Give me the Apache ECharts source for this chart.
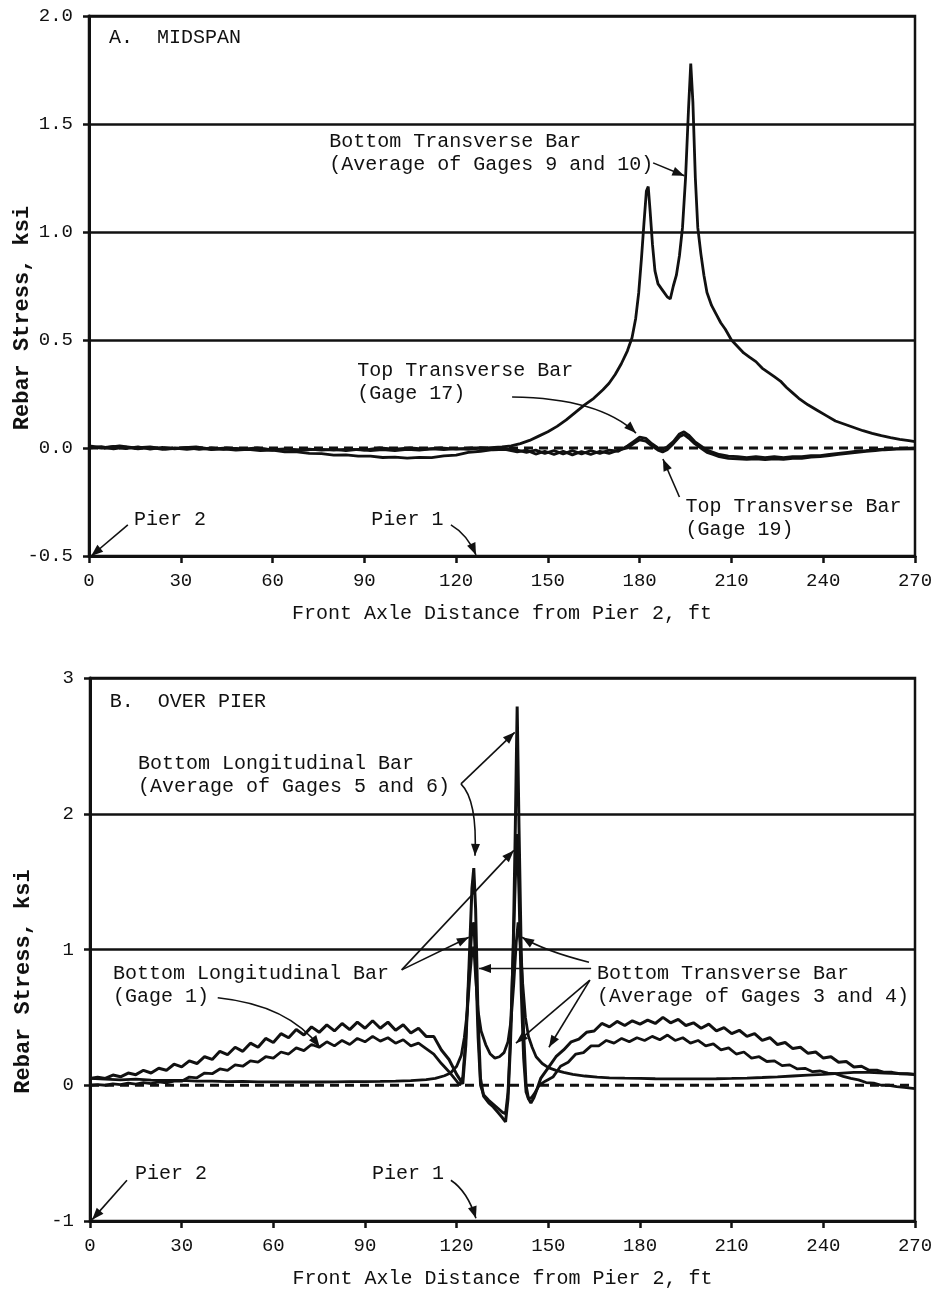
<!DOCTYPE html>
<html>
<head>
<meta charset="utf-8">
<script src="https://cdn.jsdelivr.net/npm/echarts@6/dist/echarts.min.js"></script>
<style>
  html, body { margin: 0; padding: 0; background: #fff; }
  #chart { width: 934px; height: 1290px; }
</style>
</head>
<body>
<div id="chart"></div>
<script>
// ---- data (x = front axle distance, ft; y = rebar stress, ksi) ----
const xMin = 0, xMax = 270, xStep = 30;
const midYMin = -0.5, midYMax = 2.0, midYStep = 0.5;
const pierYMin = -1, pierYMax = 3, pierYStep = 1;
const zeroLine = [[0, 0], [270, 0]];

// A. midspan
const midBottomTransverse = [
  [0,0.01],[5,0.0],[10,0.01],[15,0.0],[20,0.005],[25,-0.005],[30,0.0],[35,0.005],[40,-0.005],[45,0.0],
  [50,-0.005],[55,0.0],[60,-0.01],[65,-0.005],[70,-0.01],[75,-0.005],[80,-0.01],[85,-0.005],[90,-0.01],
  [95,0.0],[100,-0.005],[105,0.0],[110,-0.005],[115,0.0],[120,-0.005],[125,0.0],[130,0.0],[135,0.005],
  [138,0.01],[141,0.02],[144,0.035],[147,0.055],[150,0.075],[153,0.1],[156,0.13],[159,0.165],[162,0.2],
  [165,0.23],[168,0.27],[170,0.3],[172,0.34],[174,0.39],[176,0.45],[177.5,0.51],[178.7,0.6],[179.7,0.72],
  [180.6,0.88],[181.4,1.04],[182.2,1.19],[182.8,1.21],[183.4,1.1],[184.2,0.94],[185,0.82],[186,0.76],
  [187.5,0.73],[189,0.7],[190,0.69],[191,0.75],[192,0.8],[193,0.89],[194,1.02],[195,1.25],[196,1.58],
  [196.7,1.78],[197.4,1.6],[198.2,1.25],[199,1.02],[200,0.9],[201,0.8],[202,0.72],[203.5,0.66],[205,0.62],
  [206.5,0.58],[208,0.55],[210,0.5],[212,0.47],[214,0.44],[216,0.42],[218,0.4],[220,0.37],[222,0.35],
  [224,0.33],[226,0.31],[228,0.28],[230,0.255],[232,0.23],[235,0.2],[238,0.175],[241,0.15],[244,0.125],
  [247,0.11],[250,0.095],[253,0.08],[256,0.068],[259,0.057],[262,0.048],[265,0.04],[268,0.034],[270,0.03]
];
const midTopTransverse17 = [
  [0,0.005],[4,0],[8,0.008],[12,-0.003],[16,0.005],[20,-0.005],[24,0.003],[28,-0.004],[32,0.002],[36,-0.006],
  [40,0],[44,-0.006],[48,-0.002],[52,-0.008],[56,-0.003],[60,-0.008],[64,-0.004],[68,-0.01],[72,-0.005],
  [76,-0.01],[80,-0.006],[84,-0.012],[88,-0.006],[92,-0.012],[96,-0.007],[100,-0.012],[104,-0.006],
  [108,-0.01],[112,-0.004],[116,-0.008],[120,-0.003],[124,-0.006],[128,0],[132,-0.004],[136,-0.002],
  [140,-0.01],[143,-0.02],[146,-0.01],[149,-0.025],[152,-0.012],[155,-0.028],[158,-0.012],[161,-0.028],
  [164,-0.012],[167,-0.025],[170,-0.01],[173,-0.015],[176,0.01],[178,0.03],[180,0.05],[182,0.045],
  [184,0.02],[186,0.0],[187.5,-0.005],[189,0.005],[191,0.03],[193,0.065],[194.5,0.075],[196,0.06],
  [198,0.03],[200,0.01],[202,-0.01],[204,-0.02],[206,-0.03],[209,-0.038],[212,-0.04],[215,-0.045],
  [218,-0.04],[221,-0.045],[224,-0.04],[227,-0.045],[230,-0.04],[233,-0.04],[236,-0.035],[239,-0.035],
  [242,-0.03],[245,-0.025],[248,-0.02],[251,-0.015],[254,-0.012],[257,-0.008],[260,-0.005],[264,-0.003],[270,0]
];
const midTopTransverse19 = [
  [0,0],[4,0.006],[8,-0.004],[12,0.004],[16,-0.004],[20,0.003],[24,-0.006],[28,0.0],[32,-0.006],[36,0],
  [40,-0.008],[44,-0.004],[48,-0.01],[52,-0.006],[56,-0.012],[60,-0.01],[64,-0.018],[68,-0.018],[72,-0.025],
  [76,-0.026],[80,-0.033],[84,-0.032],[88,-0.038],[92,-0.038],[96,-0.044],[100,-0.042],[104,-0.047],
  [108,-0.043],[112,-0.045],[116,-0.036],[120,-0.033],[124,-0.02],[128,-0.015],[132,-0.008],[136,-0.006],
  [140,-0.018],[143,-0.01],[146,-0.028],[149,-0.015],[152,-0.03],[155,-0.015],[158,-0.032],[161,-0.016],
  [164,-0.03],[167,-0.015],[170,-0.025],[173,-0.01],[176,0.0],[178,0.02],[180,0.038],[182,0.032],
  [184,0.01],[186,-0.01],[187.5,-0.018],[189,-0.008],[191,0.02],[193,0.052],[194.5,0.062],[196,0.046],
  [198,0.02],[200,0.0],[202,-0.02],[204,-0.03],[206,-0.04],[209,-0.048],[212,-0.05],[215,-0.052],
  [218,-0.05],[221,-0.054],[224,-0.05],[227,-0.053],[230,-0.048],[233,-0.048],[236,-0.042],[239,-0.04],
  [242,-0.035],[245,-0.03],[248,-0.025],[251,-0.02],[254,-0.015],[257,-0.012],[260,-0.008],[264,-0.005],[270,-0.004]
];

// B. over pier
const pierBottomLong56 = [
  [0,0.05],[2.5,0.06],[5,0.05],[7.5,0.075],[10,0.062],[12.5,0.09],[15,0.078],[17.5,0.11],[20,0.09],
  [22.5,0.125],[25,0.11],[27.5,0.155],[30,0.135],[32.5,0.18],[35,0.16],[37.5,0.21],[40,0.19],[42.5,0.25],
  [45,0.225],[47.5,0.28],[50,0.25],[52.5,0.31],[55,0.28],[57.5,0.345],[60,0.315],[62.5,0.38],[65,0.35],
  [67.5,0.41],[70,0.37],[72.5,0.43],[75,0.39],[77.5,0.445],[80,0.4],[82.5,0.455],[85,0.41],[87.5,0.465],
  [90,0.42],[92.5,0.475],[95,0.42],[97.5,0.465],[100,0.405],[102.5,0.445],[105,0.385],[107.5,0.42],
  [110,0.36],[112.5,0.36],[115,0.26],[117.5,0.19],[120,0.08],[122,0.01],[123,0.3],[124,0.85],[125,1.45],
  [125.6,1.6],[126.2,1.3],[127,0.5],[127.8,0.05],[128.8,-0.08],[130.5,-0.13],[132,-0.16],[133.5,-0.2],
  [135,-0.24],[136,-0.27],[136.8,-0.1],[137.6,0.3],[138.5,1.0],[139.2,1.9],[139.8,2.79],[140.4,1.9],
  [141.1,1.0],[141.9,0.4],[142.7,0.0],[143.5,-0.1],[144.3,-0.13],[145.3,-0.09],[146.3,-0.03],[147.5,0.05],
  [150,0.13],[152.5,0.21],[155,0.26],[157.5,0.32],[160,0.34],[162.5,0.39],[165,0.4],[167.5,0.455],[170,0.43],
  [172.5,0.47],[175,0.44],[177.5,0.475],[180,0.45],[182.5,0.48],[185,0.455],[187.5,0.5],[190,0.46],
  [192.5,0.485],[195,0.44],[197.5,0.46],[200,0.42],[202.5,0.45],[205,0.4],[207.5,0.425],[210,0.38],
  [212.5,0.405],[215,0.36],[217.5,0.38],[220,0.33],[222.5,0.35],[225,0.3],[227.5,0.315],[230,0.27],
  [232.5,0.28],[235,0.235],[237.5,0.245],[240,0.2],[242.5,0.21],[245,0.17],[247.5,0.175],[250,0.135],
  [252.5,0.14],[255,0.11],[257.5,0.11],[260,0.095],[262.5,0.095],[265,0.085],[267.5,0.085],[270,0.08]
];
const pierBottomLong1 = [
  [0,0.0],[2.5,0.005],[5,0.0],[7.5,0.01],[10,0.005],[12.5,0.015],[15,0.008],[17.5,0.02],[20,0.012],
  [22.5,0.025],[25,0.018],[27.5,0.03],[30,0.03],[32.5,0.06],[35,0.055],[37.5,0.09],[40,0.085],[42.5,0.12],
  [45,0.11],[47.5,0.15],[50,0.14],[52.5,0.18],[55,0.17],[57.5,0.21],[60,0.2],[62.5,0.245],[65,0.23],
  [67.5,0.275],[70,0.255],[72.5,0.3],[75,0.28],[77.5,0.32],[80,0.29],[82.5,0.33],[85,0.3],[87.5,0.345],
  [90,0.32],[92.5,0.36],[95,0.325],[97.5,0.35],[100,0.31],[102.5,0.335],[105,0.29],[107.5,0.31],[110,0.27],
  [112.5,0.23],[115,0.16],[117.5,0.1],[120,0.03],[121,0.0],[122,0.06],[123,0.35],[124,0.8],[125,1.15],
  [125.6,1.2],[126.2,0.9],[127,0.35],[127.8,0.0],[128.8,-0.07],[130.5,-0.11],[132,-0.14],[133.5,-0.17],
  [135,-0.2],[136,-0.21],[136.8,-0.05],[137.6,0.35],[138.5,1.0],[139.2,1.5],[139.8,1.85],[140.4,1.4],
  [141.1,0.7],[141.9,0.2],[142.7,-0.05],[143.5,-0.1],[144.5,-0.09],[145.5,-0.06],[147,0.0],[149,0.03],
  [151.5,0.06],[154,0.14],[156.5,0.17],[159,0.23],[161.5,0.24],[164,0.29],[166.5,0.29],[169,0.33],
  [171.5,0.31],[174,0.345],[176.5,0.32],[179,0.35],[181.5,0.33],[184,0.36],[186.5,0.335],[189,0.37],
  [191.5,0.33],[194,0.35],[196.5,0.31],[199,0.33],[201.5,0.29],[204,0.305],[206.5,0.26],[209,0.275],
  [211.5,0.23],[214,0.245],[216.5,0.2],[219,0.21],[221.5,0.175],[224,0.18],[226.5,0.145],[229,0.15],
  [231.5,0.12],[234,0.125],[236.5,0.1],[239,0.105],[241.5,0.09],[244,0.085],[246.5,0.065],[249,0.05],
  [251.5,0.04],[254,0.02],[256.5,0.015],[259,0.0],[261.5,0.0],[264,-0.01],[266.5,-0.015],[270,-0.025]
];
const pierBottomTransverse34 = [
  [0,0.05],[5,0.045],[10,0.04],[15,0.045],[20,0.038],[25,0.035],[30,0.036],[35,0.03],[40,0.03],[45,0.027],
  [50,0.028],[55,0.025],[60,0.025],[65,0.024],[70,0.025],[75,0.024],[80,0.025],[85,0.026],[90,0.027],
  [95,0.028],[100,0.03],[105,0.034],[110,0.042],[113,0.05],[116,0.07],[118,0.09],[120,0.14],[121.5,0.22],
  [122.5,0.35],[123.5,0.55],[124.3,0.8],[125,0.98],[125.6,1.02],[126.2,0.8],[127,0.55],[128,0.4],
  [129.5,0.3],[131,0.23],[132.5,0.2],[134,0.21],[135.5,0.24],[136.8,0.32],[137.8,0.48],[138.7,0.75],
  [139.5,1.05],[140.1,1.2],[140.8,1.05],[141.6,0.75],[142.5,0.5],[143.5,0.36],[144.7,0.28],[146,0.21],
  [148,0.16],[150,0.13],[152.5,0.11],[155,0.095],[158,0.08],[162,0.068],[166,0.06],[170,0.055],[175,0.052],
  [180,0.05],[185,0.048],[190,0.047],[195,0.047],[200,0.047],[205,0.048],[210,0.05],[215,0.053],[220,0.057],
  [225,0.062],[230,0.068],[235,0.074],[240,0.08],[245,0.088],[250,0.095],[255,0.095],[260,0.09],[265,0.085],[270,0.08]
];

// annotations, anchored in data coordinates [ft, ksi] (first line centre)
const midNotes = [
  { text: 'A.  MIDSPAN', at: [6.5, 1.90] },
  { text: 'Bottom Transverse Bar\n(Average of Gages 9 and 10)', at: [78.5, 1.42] },
  { text: 'Top Transverse Bar\n(Gage 17)', at: [87.7, 0.36] },
  { text: 'Top Transverse Bar\n(Gage 19)', at: [195, -0.273] },
  { text: 'Pier 2', at: [14.7, -0.333] },
  { text: 'Pier 1', at: [92.3, -0.333] }
];
const midArrows = [
  { from: [184.4, 1.32], to: [194.6, 1.26] },
  { from: [138.3, 0.236], via: [166.8, 0.231], to: [178.8, 0.069] },
  { from: [193, -0.227], to: [187.6, -0.051] },
  { from: [12.7, -0.356], to: [0.7, -0.5] },
  { from: [118.3, -0.356], via: [123.6, -0.40], to: [126.5, -0.495] }
];
const pierNotes = [
  { text: 'B.  OVER PIER', at: [6.5, 2.825] },
  { text: 'Bottom Longitudinal Bar\n(Average of Gages 5 and 6)', at: [15.7, 2.368] },
  { text: 'Bottom Longitudinal Bar\n(Gage 1)', at: [7.5, 0.82] },
  { text: 'Bottom Transverse Bar\n(Average of Gages 3 and 4)', at: [165.9, 0.82] },
  { text: 'Pier 2', at: [14.7, -0.653] },
  { text: 'Pier 1', at: [92.3, -0.653] }
];
const pierArrows = [
  { from: [121.4, 2.22], via: [130.2, 2.41], to: [139, 2.6] },
  { from: [121.4, 2.22], via: [126.8, 2.1], to: [126, 1.69] },
  { from: [102, 0.85], to: [124, 1.09] },
  { from: [102, 0.85], to: [138.7, 1.73] },
  { from: [41.8, 0.645], via: [65, 0.59], to: [75.2, 0.28] },
  { from: [164, 0.86], to: [127.3, 0.86] },
  { from: [163.3, 0.906], via: [148.6, 0.99], to: [141.4, 1.09] },
  { from: [163.6, 0.775], to: [139.4, 0.31] },
  { from: [163.6, 0.775], to: [150.2, 0.28] },
  { from: [12.1, -0.7], to: [0.7, -0.99] },
  { from: [118.1, -0.7], via: [123.5, -0.78], to: [126.3, -0.98] }
];

const FONT = '"Liberation Mono", "DejaVu Sans Mono", monospace';
const INK = '#111';

function xAxisFor(gridIndex) {
  return {
    type: 'value', gridIndex, min: xMin, max: xMax, interval: xStep,
    name: 'Front Axle Distance from Pier 2, ft', nameLocation: 'middle', nameGap: 48,
    nameMoveOverlap: false,
    nameTextStyle: { fontFamily: FONT, fontSize: 20, color: INK },
    axisLine: { onZero: false, lineStyle: { color: INK, width: 3 } },
    axisTick: { length: 7, lineStyle: { color: INK, width: 2.5 } },
    axisLabel: { fontFamily: FONT, fontSize: 19, color: INK, margin: 15 },
    splitLine: { show: false }
  };
}
function yAxisFor(gridIndex, min, max, step, digits, lineColors) {
  return {
    type: 'value', gridIndex, min, max, interval: step,
    name: 'Rebar Stress, ksi', nameLocation: 'middle', nameGap: 56,
    nameMoveOverlap: false,
    // the printed label sits a little below the middle of the axis
    nameTextStyle: { fontFamily: FONT, fontSize: 22, fontWeight: 'bold', color: INK,
      padding: [0, 64, 0, 0] },
    axisLine: { onZero: false, lineStyle: { color: INK, width: 3 } },
    axisTick: { length: 6, lineStyle: { color: INK, width: 2.5 } },
    axisLabel: { fontFamily: FONT, fontSize: 19, color: INK, margin: 16,
      formatter: v => v.toFixed(digits) },
    splitLine: { show: true, lineStyle: { color: lineColors, width: 2.5 } }
  };
}
function curve(name, data, axis, width) {
  return {
    name, type: 'line', data, xAxisIndex: axis, yAxisIndex: axis,
    showSymbol: false, symbol: 'none', animation: false,
    lineStyle: { color: INK, width: width || 2.8 }, z: 3
  };
}
function dashedZero(axis) {
  return {
    name: 'zero', type: 'line', data: zeroLine, xAxisIndex: axis, yAxisIndex: axis,
    showSymbol: false, symbol: 'none', animation: false, z: 2,
    lineStyle: { color: INK, width: 3, type: [9, 6] }
  };
}

const chart = echarts.init(document.getElementById('chart'), null, { renderer: 'canvas' });
chart.setOption({
  backgroundColor: '#fff',
  animation: false,
  grid: [
    { left: 89, top: 16, width: 826, height: 540, show: true, borderColor: INK, borderWidth: 2.5,
      containLabel: false, outerBoundsMode: 'none' },
    { left: 90, top: 678, width: 825, height: 543, show: true, borderColor: INK, borderWidth: 2.5,
      containLabel: false, outerBoundsMode: 'none' }
  ],
  xAxis: [xAxisFor(0), xAxisFor(1)],
  yAxis: [
    yAxisFor(0, midYMin, midYMax, midYStep, 1, [INK, 'rgba(0,0,0,0)', INK, INK, INK, INK]),
    yAxisFor(1, pierYMin, pierYMax, pierYStep, 0, [INK, 'rgba(0,0,0,0)', INK, INK, INK])
  ],
  series: [
    dashedZero(0),
    curve('Bottom Transverse Bar (Average of Gages 9 and 10)', midBottomTransverse, 0),
    curve('Top Transverse Bar (Gage 17)', midTopTransverse17, 0),
    curve('Top Transverse Bar (Gage 19)', midTopTransverse19, 0),
    dashedZero(1),
    curve('Bottom Transverse Bar (Average of Gages 3 and 4)', pierBottomTransverse34, 1),
    curve('Bottom Longitudinal Bar (Gage 1)', pierBottomLong1, 1),
    curve('Bottom Longitudinal Bar (Average of Gages 5 and 6)', pierBottomLong56, 1, 3)
  ]
});

// annotations: texts and arrows placed through the grids' own coordinate systems
function buildNotes(gridIndex, notes, arrows) {
  const px = p => chart.convertToPixel({ gridIndex }, p);
  const out = [];
  notes.forEach(n => {
    const p = px(n.at);
    out.push({
      type: 'text', x: p[0], y: p[1] - 11.5, z: 10,
      style: { text: n.text, font: '20px ' + FONT, fill: INK, lineHeight: 23,
        align: 'left', verticalAlign: 'top' }
    });
  });
  arrows.forEach(a => {
    const s = px(a.from), e = px(a.to);
    const c = a.via ? px(a.via) : null;
    if (c) {
      out.push({ type: 'bezierCurve', z: 10,
        shape: { x1: s[0], y1: s[1], x2: e[0], y2: e[1], cpx1: c[0], cpy1: c[1] },
        style: { stroke: INK, lineWidth: 1.6, fill: null } });
    } else {
      out.push({ type: 'line', z: 10,
        shape: { x1: s[0], y1: s[1], x2: e[0], y2: e[1] },
        style: { stroke: INK, lineWidth: 1.6 } });
    }
    const b = c || s;
    const dx = e[0] - b[0], dy = e[1] - b[1];
    const len = Math.hypot(dx, dy) || 1;
    const ux = dx / len, uy = dy / len;
    const L = 12, W = 4.5;
    out.push({ type: 'polygon', z: 11,
      shape: { points: [
        [e[0], e[1]],
        [e[0] - ux * L - uy * W, e[1] - uy * L + ux * W],
        [e[0] - ux * L + uy * W, e[1] - uy * L - ux * W]
      ] },
      style: { fill: INK } });
  });
  return out;
}

chart.setOption({
  graphic: buildNotes(0, midNotes, midArrows).concat(buildNotes(1, pierNotes, pierArrows))
});
</script>
</body>
</html>
